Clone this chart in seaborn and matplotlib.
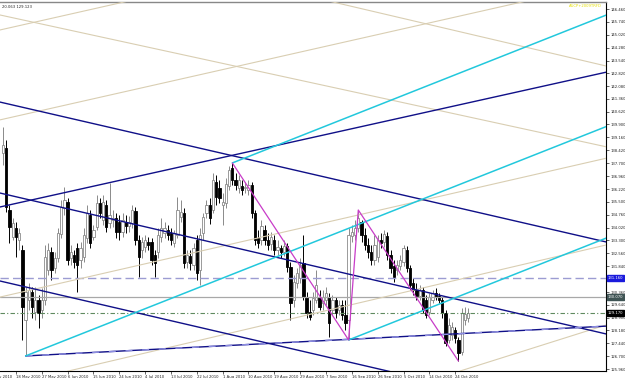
import numpy as np
import pandas as pd
import matplotlib
matplotlib.use("Agg")
import matplotlib.pyplot as plt
import seaborn as sns

# ---------------- data (GBPJPY daily, May-Oct 2010) ----------------
opens = [138.28, 138.56, 135.03, 133.49, 134.00, 133.32, 132.75, 128.77, 129.90, 130.36,
         129.22, 129.90, 129.34, 129.90, 131.61, 132.64, 131.73, 132.30, 133.66, 135.15,
         135.49, 132.30, 132.47, 132.87, 132.18, 132.35, 133.44, 134.75, 133.49, 134.06,
         135.43, 134.46, 135.32, 134.29, 134.46, 134.57, 134.35, 133.78, 134.35, 134.12,
         134.29, 134.97, 133.32, 132.75, 132.92, 133.21, 133.21, 132.47, 132.64, 133.49,
         133.72, 133.89, 133.72, 133.15, 133.61, 134.63, 134.86, 132.07, 132.41, 131.90,
         133.32, 131.61, 133.72, 134.86, 135.32, 135.03, 136.62, 136.28, 135.32, 135.43,
         136.40, 137.42, 136.74, 136.28, 136.40, 136.28, 136.17, 136.45, 134.86, 133.44,
         133.32, 133.89, 133.32, 133.09, 133.32, 132.75, 132.87, 132.64, 132.98, 131.78,
         129.90, 130.87, 131.16, 132.01, 130.07, 129.22, 129.34, 129.90, 130.07, 129.73,
         129.90, 130.07, 129.34, 129.90, 129.34, 129.62, 129.05, 128.77, 133.55, 133.61,
         134.00, 134.35, 133.61, 133.04, 132.64, 132.18, 132.35, 133.32, 133.21, 133.55,
         132.47, 131.84, 131.61, 131.84, 132.07, 132.75, 131.73, 130.87, 130.47, 130.13,
         130.47, 129.90, 129.22, 129.90, 130.30, 130.13, 129.90, 129.17, 127.63, 127.91,
         128.20, 127.63, 126.94, 128.77, 128.88]
highs = [139.76, 139.02, 135.32, 134.57, 134.35, 134.00, 133.04, 130.65, 130.87, 130.65,
         130.65, 130.19, 130.59, 133.04, 133.15, 132.92, 132.64, 134.00, 135.60, 136.34,
         135.71, 133.04, 132.75, 133.15, 133.21, 134.00, 135.32, 135.03, 134.18, 135.88,
         135.71, 135.88, 135.60, 136.57, 135.03, 134.86, 134.75, 134.86, 134.75, 134.69,
         135.32, 135.20, 133.61, 133.49, 133.61, 133.49, 133.44, 132.75, 134.00, 134.57,
         134.35, 134.18, 134.00, 133.89, 135.77, 135.60, 135.15, 132.75, 132.75, 133.15,
         133.61, 134.00, 134.86, 135.60, 135.71, 137.14, 137.02, 136.74, 136.00, 136.85,
         137.54, 137.71, 137.14, 137.02, 136.74, 136.62, 136.74, 136.62, 135.03, 133.89,
         134.46, 134.18, 133.72, 133.78, 133.61, 133.32, 133.04, 133.32, 133.15, 132.07,
         131.33, 131.73, 132.30, 133.61, 130.36, 129.90, 130.36, 131.61, 130.47, 130.47,
         130.65, 130.30, 130.19, 130.07, 129.90, 129.90, 129.90, 134.00, 134.18, 134.46,
         135.03, 134.46, 134.00, 133.44, 133.04, 133.61, 133.61, 133.72, 133.89, 133.78,
         132.75, 132.18, 132.18, 132.47, 133.04, 132.98, 131.90, 131.16, 130.87, 130.76,
         130.65, 130.19, 130.30, 130.47, 130.59, 130.30, 130.07, 129.34, 128.88, 128.65,
         128.37, 127.80, 129.45, 129.51, 129.45]
lows = [137.59, 134.92, 133.15, 133.32, 132.35, 132.75, 127.63, 126.72, 129.34, 128.88,
        128.77, 128.31, 128.88, 129.62, 131.33, 131.04, 131.44, 132.07, 133.44, 134.75,
        131.90, 131.90, 131.73, 130.36, 131.73, 132.07, 133.15, 132.87, 133.32, 133.89,
        134.57, 134.18, 133.78, 134.00, 134.06, 133.44, 133.32, 133.49, 133.72, 133.78,
        134.00, 133.04, 131.22, 132.30, 132.64, 132.75, 131.90, 131.22, 132.30, 133.21,
        133.44, 133.32, 133.04, 132.92, 133.44, 134.35, 131.73, 131.73, 131.61, 131.61,
        131.04, 130.76, 133.32, 134.57, 134.23, 134.86, 135.32, 135.43, 134.18, 135.15,
        136.17, 136.45, 136.17, 136.00, 135.88, 136.00, 135.88, 134.57, 133.04, 132.87,
        133.04, 133.04, 132.75, 132.75, 132.47, 132.47, 132.30, 132.41, 131.50, 128.77,
        129.51, 130.59, 130.87, 129.90, 128.88, 128.77, 129.05, 129.73, 129.34, 129.34,
        129.62, 127.80, 129.05, 128.88, 129.05, 128.77, 128.20, 127.63, 133.21, 133.32,
        133.78, 133.21, 132.75, 132.30, 131.90, 131.90, 132.07, 132.87, 132.92, 132.18,
        131.44, 130.93, 131.33, 131.61, 131.84, 131.50, 130.47, 130.19, 129.90, 129.90,
        129.17, 128.88, 129.05, 129.73, 129.90, 129.73, 128.88, 127.29, 127.46, 127.63,
        127.46, 126.43, 126.77, 128.48, 128.65]
closes = [138.73, 135.20, 134.06, 134.29, 133.49, 133.72, 129.51, 130.36, 130.47, 129.51,
          129.90, 129.17, 129.90, 132.35, 132.75, 131.61, 132.30, 133.72, 135.20, 135.60,
          132.18, 132.64, 132.07, 131.90, 132.87, 133.61, 134.86, 133.15, 133.89, 135.43,
          134.86, 135.49, 134.06, 134.75, 134.57, 133.78, 133.78, 134.46, 134.12, 134.35,
          135.03, 133.32, 132.35, 133.21, 133.32, 133.04, 132.18, 132.01, 133.61, 134.00,
          134.00, 133.61, 133.32, 133.72, 135.03, 134.92, 132.01, 132.47, 132.01, 132.87,
          131.44, 133.61, 134.63, 135.32, 134.57, 136.74, 135.77, 135.71, 135.49, 136.51,
          137.31, 136.74, 136.45, 136.74, 136.17, 136.34, 136.45, 134.86, 133.32, 133.15,
          134.12, 133.32, 133.04, 133.49, 132.75, 132.92, 132.64, 132.98, 131.78, 129.73,
          130.93, 131.44, 131.90, 130.07, 129.17, 128.94, 130.02, 130.76, 129.51, 130.07,
          130.30, 128.60, 129.90, 129.17, 129.62, 129.05, 128.60, 133.61, 133.78, 134.00,
          134.57, 133.61, 133.04, 132.64, 132.18, 133.04, 133.32, 133.15, 133.66, 132.47,
          131.73, 131.22, 131.90, 132.18, 132.87, 131.73, 130.76, 130.47, 130.13, 130.47,
          129.34, 129.05, 130.07, 130.30, 130.07, 129.90, 129.17, 127.46, 128.48, 128.37,
          127.74, 126.89, 129.17, 129.11, 129.17]

date_tick_bars = [-4, 4, 12, 20, 28, 36, 44, 52, 60, 68, 76, 84, 92, 100, 108, 116, 124, 132, 140]
date_labels = ["9 May 2010", "18 May 2010", "27 May 2010", "6 Jun 2010", "15 Jun 2010",
               "24 Jun 2010", "4 Jul 2010", "13 Jul 2010", "22 Jul 2010", "1 Aug 2010",
               "10 Aug 2010", "19 Aug 2010", "29 Aug 2010", "7 Sep 2010", "16 Sep 2010",
               "26 Sep 2010", "5 Oct 2010", "14 Oct 2010", "24 Oct 2010"]

price_ticks = [146.460, 145.740, 145.020, 144.280, 143.540, 142.820, 142.080, 141.360,
               140.620, 139.900, 139.160, 138.420, 137.700, 136.960, 136.220, 135.500,
               134.760, 134.020, 133.300, 132.560, 131.840, 130.360, 129.640,
               128.900, 128.180, 127.440, 126.700, 125.960]

# trend lines: (bar1, price1, bar2, price2)
navy_lines = [(-1, 141.18, 187, 133.20),
              (-1, 136.00, 187, 127.96),
              (-1, 130.99, 187, 122.96),
              (-1, 135.20, 187, 142.89),
              (7, 126.72, 187, 128.42)]
cyan_lines = [(71, 137.71, 187, 146.15),
              (7, 126.72, 187, 139.80),
              (107, 127.63, 187, 133.45)]
tan_lines = [(-1, 145.28, 187, 153.08),
             (-1, 146.14, 187, 138.62),
             (90, 147.40, 187, 143.22),
             (-1, 130.07, 187, 137.99),
             (20, 125.85, 187, 133.05),
             (141.5, 125.86, 187, 128.50),
             (-1, 140.16, 187, 147.97)]
zigzag_bars = [71, 107, 110, 141]
zigzag_prices = [137.71, 127.63, 135.03, 126.43]

hline_dashed = 131.160
hline_gray = 130.070
hline_bid = 129.170

# ---------------- figure ----------------
sns.set_theme(style="white")
plt.rcParams['font.family'] = ['DejaVu Sans']

W, H = 625, 378
FS = 2.7
fig = plt.figure(figsize=(W / 100, H / 100), dpi=100)
fig.patch.set_facecolor("white")
ax = fig.add_axes([0, 1 - 371 / H, 606 / W, 369 / H])
ax.set_facecolor("white")

n = len(opens)
idx = np.arange(n)
o = np.array(opens); c = np.array(closes); hi = np.array(highs); lo = np.array(lows)
bull = c >= o

wick_bull = "#8a8a8a"
ax.vlines(idx[bull], lo[bull], hi[bull], color=wick_bull, lw=0.7, zorder=2)
ax.vlines(idx[~bull], lo[~bull], hi[~bull], color="black", lw=0.7, zorder=2)
bottoms = np.minimum(o, c)
heights = np.maximum(np.abs(c - o), 0.03)
ax.bar(idx[bull], heights[bull], bottom=bottoms[bull], width=0.7,
       facecolor="white", edgecolor=wick_bull, linewidth=0.6, zorder=3)
ax.bar(idx[~bull], heights[~bull], bottom=bottoms[~bull], width=0.7,
       facecolor="black", edgecolor="black", linewidth=0.6, zorder=3)

# horizontal lines
ax.axhline(hline_dashed, color="#9c9cd2", lw=1.0, ls=(0, (6, 3)), zorder=4)
ax.axhline(hline_gray, color="#a8a8a8", lw=0.9, zorder=4)
ax.axhline(hline_bid, color="#5f8a5f", lw=0.8, ls=(0, (4, 2, 1, 2)), zorder=4)

for (b1, p1, b2, p2) in tan_lines:
    ax.plot([b1, b2], [p1, p2], color="#d9ceb2", lw=0.8, zorder=4)
for (b1, p1, b2, p2) in navy_lines:
    ax.plot([b1, b2], [p1, p2], color="#101088", lw=1.0, zorder=5)
# lighter dashed overlay on the lower rising navy line (two-tone look)
b1, p1, b2, p2 = navy_lines[4]
ax.plot([b1, b2], [p1, p2], color="#8c8ce0", lw=1.0, ls=(0, (5, 7)), zorder=5)
for (b1, p1, b2, p2) in cyan_lines:
    ax.plot([b1, b2], [p1, p2], color="#22c8dc", lw=1.1, zorder=5)

zz = pd.DataFrame({"bar": zigzag_bars, "price": zigzag_prices})
sns.lineplot(data=zz, x="bar", y="price", sort=False, color="#c83cc8", lw=0.9,
             ax=ax, zorder=6, legend=False)

# axes styling
ax.spines["left"].set_visible(False)
ax.spines["top"].set_color("#888888")
ax.spines["top"].set_linewidth(1.0)
ax.spines["right"].set_color("black")
ax.spines["right"].set_linewidth(0.8)
ax.spines["bottom"].set_color("black")
ax.spines["bottom"].set_linewidth(0.8)

ax.yaxis.tick_right()
ax.set_yticks(price_ticks)
ax.set_yticklabels([f"{v:.3f}" for v in price_ticks], fontsize=FS, color="#222222")
ax.tick_params(axis="y", direction="out", length=2, width=0.5, pad=1.2, right=True, left=False)

ax.set_xticks(date_tick_bars)
ax.set_xticklabels(date_labels, fontsize=FS, color="#222222", ha="left")
ax.tick_params(axis="x", direction="out", length=2, width=0.5, pad=0.8, bottom=True)
ax.set_xlabel("")
ax.set_ylabel("")
ax.grid(False)

# limits last (set_ticks may widen them)
ax.set_xlim(-0.93, 186.69)
ax.set_ylim(125.862, 146.876)

# first date label is partly off the left edge (its tick lies outside the view)
ax.text(date_tick_bars[0], -0.0105, date_labels[0], transform=ax.get_xaxis_transform(),
        fontsize=FS, color="#222222", ha="left", va="top", clip_on=False)

# price boxes on the right scale
trans = ax.get_yaxis_transform()
for val, bg in [(hline_dashed, "#1a1adc"), (hline_gray, "#3f5454"), (hline_bid, "#000000")]:
    ax.text(1.003, val, f"{val:.3f}", transform=trans, fontsize=FS, color="white",
            va="center", ha="left", clip_on=False, zorder=10,
            bbox=dict(boxstyle="square,pad=0.2", facecolor=bg, edgecolor=bg))

fig.text(2 / W, 1 - 7 / H, "20.063 129.123", fontsize=FS, color="#222222", va="center", ha="left")
fig.text(602 / W, 1 - 6 / H, "AUCP+2009TRFD", fontsize=FS, color="#e6e000", va="center", ha="right")

fig.savefig("out.png", dpi=100, facecolor="white")
